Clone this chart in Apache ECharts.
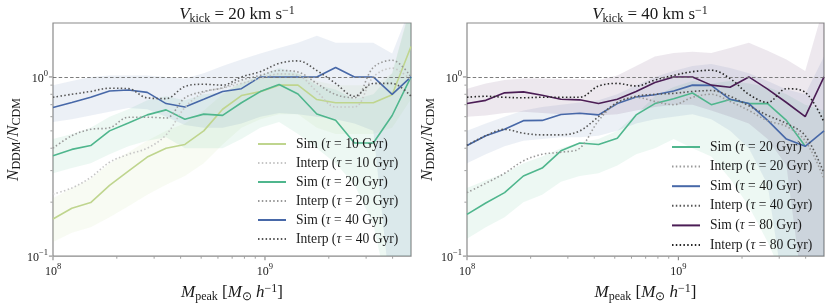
<!DOCTYPE html>
<html>
<head>
<meta charset="utf-8">
<script src="https://cdn.jsdelivr.net/npm/echarts@6/dist/echarts.min.js"></script>
<style>html,body{margin:0;padding:0;background:#fff}#c{width:830px;height:308px}</style>
</head>
<body>
<div id="c"></div>
<script>
// ---------------- data ----------------
const masses = [1.000e8, 1.227e8, 1.506e8, 1.848e8, 2.268e8, 2.783e8, 3.415e8, 4.190e8, 5.142e8, 6.310e8,
                7.743e8, 9.502e8, 1.166e9, 1.431e9, 1.756e9, 2.154e9, 2.644e9, 3.244e9, 3.981e9, 4.885e9];

// Left panel: V_kick = 20 km/s
const simL10    = [0.161, 0.185, 0.199, 0.248, 0.298, 0.357, 0.40, 0.42, 0.50, 0.66, 0.787, 0.828, 0.90, 0.90, 0.748, 0.718, 0.718, 0.718, 0.796, 1.48];
const interpL10 = [0.222, 0.24, 0.275, 0.334, 0.37, 0.40, 0.475, 0.675, 0.82, 0.865, 0.92, 0.98, 1.04, 1.02, 0.83, 0.68, 0.68, 1.0, 1.12, 0.96];
const loL10     = [0.12, 0.135, 0.145, 0.165, 0.19, 0.22, 0.25, 0.28, 0.33, 0.42, 0.52, 0.58, 0.62, 0.62, 0.52, 0.48, 0.48, 0.48, 0.52, 0.75];
const hiL10     = [0.21, 0.24, 0.27, 0.33, 0.38, 0.44, 0.50, 0.55, 0.65, 0.80, 0.95, 1.0, 1.05, 1.05, 0.95, 0.90, 0.90, 0.90, 1.05, 2.6];

const simL20    = [0.363, 0.394, 0.414, 0.50, 0.553, 0.614, 0.655, 0.58, 0.62, 0.61, 0.718, 0.828, 0.908, 0.803, 0.621, 0.573, 0.428, 0.428, 0.609, 1.0];
const interpL20 = [0.40, 0.47, 0.51, 0.52, 0.596, 0.596, 0.59, 0.764, 0.83, 0.87, 0.96, 1.02, 1.086, 1.065, 0.92, 0.797, 0.765, 1.13, 1.24, 1.0];
const loL20     = [0.29, 0.31, 0.33, 0.37, 0.41, 0.44, 0.46, 0.40, 0.40, 0.40, 0.45, 0.52, 0.56, 0.48, 0.40, 0.33, 0.25, 0.15, 0.05, 0.05];
const hiL20     = [0.45, 0.48, 0.52, 0.60, 0.66, 0.74, 0.78, 0.74, 0.80, 0.82, 0.92, 1.02, 1.12, 1.05, 0.90, 0.85, 0.75, 0.80, 1.05, 2.5];

const simL40    = [0.675, 0.72, 0.77, 0.835, 0.845, 0.82, 0.71, 0.68, 0.75, 0.83, 0.86, 1.0, 1.0, 1.0, 1.0, 1.13, 1.0, 1.0, 0.80, 1.0];
const interpL40 = [0.77, 0.80, 0.83, 0.865, 0.86, 0.764, 0.757, 0.885, 0.91, 0.90, 1.0, 1.07, 1.19, 1.23, 1.086, 0.92, 0.78, 0.92, 0.92, 0.78];
const loL40     = [0.56, 0.58, 0.61, 0.64, 0.67, 0.66, 0.60, 0.54, 0.52, 0.52, 0.55, 0.60, 0.63, 0.62, 0.60, 0.58, 0.55, 0.50, 0.05, 0.05];
const hiL40     = [0.90, 0.95, 1.0, 1.02, 1.02, 1.02, 1.0, 0.98, 1.05, 1.15, 1.25, 1.35, 1.45, 1.55, 1.70, 1.55, 1.55, 1.55, 1.35, 2.5];

// Right panel: V_kick = 40 km/s
const simR20    = [0.171, 0.198, 0.226, 0.28, 0.31, 0.387, 0.428, 0.42, 0.455, 0.614, 0.71, 0.755, 0.813, 0.70, 0.748, 0.71, 0.71, 0.572, 0.41, null];
const interpR20 = [0.226, 0.255, 0.29, 0.34, 0.37, 0.38, 0.40, 0.57, 0.72, 0.77, 0.73, 0.70, 0.77, 0.80, 0.73, 0.65, 0.57, 0.53, 0.44, 0.27];
const loR20     = [0.125, 0.145, 0.165, 0.20, 0.22, 0.26, 0.28, 0.29, 0.32, 0.37, 0.40, 0.45, 0.40, 0.36, 0.27, 0.19, 0.12, 0.07, 0.05, 0.05];
const hiR20     = [0.24, 0.265, 0.29, 0.33, 0.36, 0.40, 0.43, 0.45, 0.50, 0.62, 0.78, 0.88, 0.95, 0.92, 0.95, 0.92, 0.88, 0.80, 0.70, 0.65];

const simR40    = [0.414, 0.47, 0.51, 0.57, 0.572, 0.617, 0.627, 0.614, 0.71, 0.773, 0.795, 0.835, 0.90, 0.897, 0.75, 0.71, 0.572, 0.45, 0.41, 0.50];
const interpR40 = [0.415, 0.47, 0.51, 0.485, 0.475, 0.475, 0.50, 0.60, 0.72, 0.78, 0.80, 0.81, 0.83, 0.84, 0.78, 0.69, 0.61, 0.55, 0.47, 0.29];
const loR40     = [0.33, 0.37, 0.41, 0.44, 0.45, 0.46, 0.46, 0.47, 0.50, 0.55, 0.58, 0.60, 0.62, 0.58, 0.50, 0.40, 0.25, 0.05, 0.05, 0.05];
const hiR40     = [0.50, 0.55, 0.60, 0.65, 0.68, 0.70, 0.72, 0.74, 0.80, 0.90, 1.0, 1.08, 1.15, 1.18, 1.12, 1.05, 0.95, 0.85, 0.80, 1.3];

const simR80    = [0.71, 0.74, 0.815, 0.825, 0.79, 0.75, 0.745, 0.71, 0.75, 0.83, 0.93, 1.0, 1.0, 0.90, 0.875, 1.0, 0.855, 0.72, 0.60, 1.0];
const interpR80 = [0.77, 0.78, 0.77, 0.765, 0.77, 0.77, 0.77, 0.89, 0.92, 0.89, 0.96, 1.02, 1.07, 1.09, 0.98, 0.80, 0.72, 0.86, 0.82, 0.56];
const loR80     = [0.60, 0.61, 0.63, 0.64, 0.63, 0.62, 0.62, 0.61, 0.62, 0.65, 0.68, 0.70, 0.70, 0.65, 0.60, 0.55, 0.45, 0.32, 0.05, 0.05];
const hiR80     = [0.86, 0.92, 0.96, 0.98, 0.98, 0.97, 0.97, 0.96, 1.02, 1.15, 1.30, 1.36, 1.38, 1.36, 1.45, 1.55, 1.40, 1.25, 1.08, 2.5];

// axis ticks
const xMajorTicks = [1e8, 1e9];
const xMinorTicks = [2e8, 3e8, 4e8, 5e8, 6e8, 7e8, 8e8, 9e8, 2e9, 3e9, 4e9];
const yMajorTicks = [0.1, 1];
const yMinorTicks = [0.2, 0.3, 0.4, 0.5, 0.6, 0.7, 0.8, 0.9];
const yMin = 0.1, yMax = 2;

// ---------------- style ----------------
const FONT = 'Liberation Serif';
const TXT = '#1a1a1a';
const COL = {10: '#bfd58e', 20: '#4fb68d', 40: '#4768a8', 80: '#4b1d55'};
const GRY = {10: '#c6c6c6', 20: '#999999', 40: '#555555', 80: '#262626'};

function hexA(hex, a) {
  const n = parseInt(hex.slice(1), 16);
  return 'rgba(' + (n >> 16 & 255) + ',' + (n >> 8 & 255) + ',' + (n & 255) + ',' + a + ')';
}
function simName(t) { return 'Sim (τ = ' + t + ' Gyr)'; }
function interpName(t) { return 'Interp (τ = ' + t + ' Gyr)'; }

function bandSeries(gi, lo, hi, tau) {
  return {
    type: 'custom', xAxisIndex: gi, yAxisIndex: gi, clip: true, silent: true, z: 1,
    data: masses.map((m, k) => [m, lo[k], hi[k]]),
    encode: {x: 0, y: [1, 2]},
    renderItem: function (params, api) {
      if (params.dataIndex !== 0) return null;
      const top = masses.map((m, k) => api.coord([m, hi[k]]));
      const bot = masses.map((m, k) => api.coord([m, lo[k]])).reverse();
      const cs = params.coordSys;
      return {
        type: 'group',
        children: [{
          type: 'polygon',
          shape: {points: top.concat(bot)},
          style: {fill: hexA(COL[tau], 0.1), stroke: null}
        }],
        clipPath: {type: 'rect', shape: {x: cs.x, y: cs.y, width: cs.width, height: cs.height}}
      };
    }
  };
}
function simSeries(gi, vals, tau, extra) {
  return Object.assign({
    name: simName(tau), type: 'line', xAxisIndex: gi, yAxisIndex: gi, z: 3,
    data: masses.map((m, k) => [m, vals[k]]),
    showSymbol: false, symbol: 'none', connectNulls: false,
    lineStyle: {color: COL[tau], width: 1.6},
    itemStyle: {color: COL[tau]}
  }, extra || {});
}
function interpSeries(gi, vals, tau) {
  return {
    name: interpName(tau), type: 'line', xAxisIndex: gi, yAxisIndex: gi, z: 4,
    data: masses.map((m, k) => [m, vals[k]]),
    showSymbol: false, symbol: 'none', smooth: 0.35,
    lineStyle: {color: GRY[tau], width: 1.6, type: [1.5, 2.3]},
    itemStyle: {color: GRY[tau]}
  };
}
function tickSeries(gi) {
  const ticks = [];
  xMajorTicks.forEach(v => ticks.push({ax: 'x', v: v, len: 3.5}));
  xMinorTicks.forEach(v => ticks.push({ax: 'x', v: v, len: 2}));
  yMajorTicks.forEach(v => ticks.push({ax: 'y', v: v, len: 3.5}));
  yMinorTicks.forEach(v => ticks.push({ax: 'y', v: v, len: 2}));
  return {
    type: 'custom', xAxisIndex: gi, yAxisIndex: gi, silent: true, z: 5, clip: false,
    data: ticks.map(t => [t.ax === 'x' ? t.v : masses[0], t.ax === 'y' ? t.v : yMin]),
    renderItem: function (params, api) {
      const t = ticks[params.dataIndex];
      let p, shape;
      if (t.ax === 'x') {
        p = api.coord([t.v, yMin]);
        shape = {x1: p[0], y1: p[1] + 0.6, x2: p[0], y2: p[1] + 0.6 + t.len};
      } else {
        p = api.coord([masses[0], t.v]);
        shape = {x1: p[0] - 0.6, y1: p[1], x2: p[0] - 0.6 - t.len, y2: p[1]};
      }
      return {type: 'line', shape: shape, style: {stroke: '#888', lineWidth: t.len > 3 ? 1.1 : 0.8}};
    }
  };
}
const refLine = {
  silent: true, symbol: ['none', 'none'], label: {show: false}, animation: false,
  lineStyle: {color: '#6e6e6e', type: [3.5, 2.2], width: 0.9},
  data: [{yAxis: 1}]
};

function powLabel(v) {
  const e = Math.log10(v), r = Math.round(e);
  if (Math.abs(e - r) > 1e-6) return '';
  return '{b|10}{s|' + (r < 0 ? '\u2212' + (-r) : r) + '}';
}
const tickRich = {
  b: {fontFamily: FONT, fontSize: 12, color: TXT, lineHeight: 16, verticalAlign: 'bottom'},
  s: {fontFamily: FONT, fontSize: 8.5, color: TXT, lineHeight: 9, verticalAlign: 'top'}
};
const bigRich = {
  i: {fontFamily: FONT, fontSize: 17, fontStyle: 'italic', fontWeight: 'normal', color: TXT, lineHeight: 20, verticalAlign: 'middle'},
  n: {fontFamily: FONT, fontSize: 17, fontWeight: 'normal', color: TXT, lineHeight: 20, verticalAlign: 'middle'},
  sb: {fontFamily: FONT, fontSize: 12, fontWeight: 'normal', color: TXT, lineHeight: 9, verticalAlign: 'bottom'},
  sp: {fontFamily: FONT, fontSize: 12, fontWeight: 'normal', color: TXT, lineHeight: 10, verticalAlign: 'top'}
};

const grids = [
  {left: 53, top: 23, width: 358, height: 241},
  {left: 467, top: 23, width: 357, height: 241}
];
function xAxisOf(gi) {
  return {
    type: 'log', logBase: 10, gridIndex: gi, min: masses[0], max: masses[masses.length - 1],
    axisLine: {show: false}, axisTick: {show: false}, splitLine: {show: false}, minorTick: {show: false},
    axisLabel: {formatter: powLabel, rich: tickRich, margin: 6, showMinLabel: true, showMaxLabel: true, hideOverlap: false},
    name: '{i|M}{sb|peak}{n| [}{i|M}{sb|⊙}{n| }{i|h}{sp|\u22121}{n|]}',
    nameLocation: 'middle', nameGap: 19, nameTextStyle: {rich: bigRich}
  };
}
function yAxisOf(gi) {
  return {
    type: 'log', logBase: 10, gridIndex: gi, min: yMin, max: yMax,
    axisLine: {show: false}, axisTick: {show: false}, splitLine: {show: false}, minorTick: {show: false},
    axisLabel: {formatter: powLabel, rich: tickRich, margin: 5, showMinLabel: true, showMaxLabel: true},
    name: '{i|N}{sb|DDM}{n|/}{i|N}{sb|CDM}',
    nameLocation: 'middle', nameRotate: 90, nameGap: 29, nameTextStyle: {rich: bigRich}
  };
}
function legendOf(names, left, top, gap) {
  return {
    data: names, orient: 'vertical', left: left, top: top, padding: 0,
    itemWidth: 28, itemHeight: 14, itemGap: gap, selectedMode: false,
    itemStyle: {opacity: 0, borderWidth: 0},
    formatter: n => '{g| }' + n.replace('τ', '{t|τ}'),
    textStyle: {fontFamily: FONT, fontSize: 13.6, color: TXT, lineHeight: 14,
      rich: {g: {width: 5}, t: {fontFamily: FONT, fontSize: 13.6, fontStyle: 'italic', color: TXT}}}
  };
}

const option = {
  animation: false,
  backgroundColor: '#fff',
  title: [
    {text: '{i|V}{sb|kick}{n| = 20 km s}{sp|\u22121}', left: 232, top: 0, textAlign: 'center', textStyle: {fontWeight: 'normal', rich: bigRich}},
    {text: '{i|V}{sb|kick}{n| = 40 km s}{sp|\u22121}', left: 645, top: 0, textAlign: 'center', textStyle: {fontWeight: 'normal', rich: bigRich}}
  ],
  grid: grids.map(g => Object.assign({show: true, borderColor: '#8a8a8a', borderWidth: 1.2, backgroundColor: 'transparent', containLabel: false}, g)),
  xAxis: [xAxisOf(0), xAxisOf(1)],
  yAxis: [yAxisOf(0), yAxisOf(1)],
  legend: [
    legendOf([simName(10), interpName(10), simName(20), interpName(20), simName(40), interpName(40)], 257, 137, 5),
    legendOf([simName(20), interpName(20), simName(40), interpName(40), simName(80), interpName(80)], 671, 140, 5.6)
  ],
  series: [
    bandSeries(0, loL10, hiL10, 10), bandSeries(0, loL20, hiL20, 20), bandSeries(0, loL40, hiL40, 40),
    simSeries(0, simL10, 10, {markLine: refLine}), interpSeries(0, interpL10, 10),
    simSeries(0, simL20, 20), interpSeries(0, interpL20, 20),
    simSeries(0, simL40, 40), interpSeries(0, interpL40, 40),
    tickSeries(0),
    bandSeries(1, loR20, hiR20, 20), bandSeries(1, loR40, hiR40, 40), bandSeries(1, loR80, hiR80, 80),
    simSeries(1, simR20, 20, {markLine: refLine}), interpSeries(1, interpR20, 20),
    simSeries(1, simR40, 40), interpSeries(1, interpR40, 40),
    simSeries(1, simR80, 80), interpSeries(1, interpR80, 80),
    tickSeries(1)
  ]
};
const chart = echarts.init(document.getElementById('c'), null, {renderer: 'canvas'});
chart.setOption(option);
</script>
</body>
</html>
